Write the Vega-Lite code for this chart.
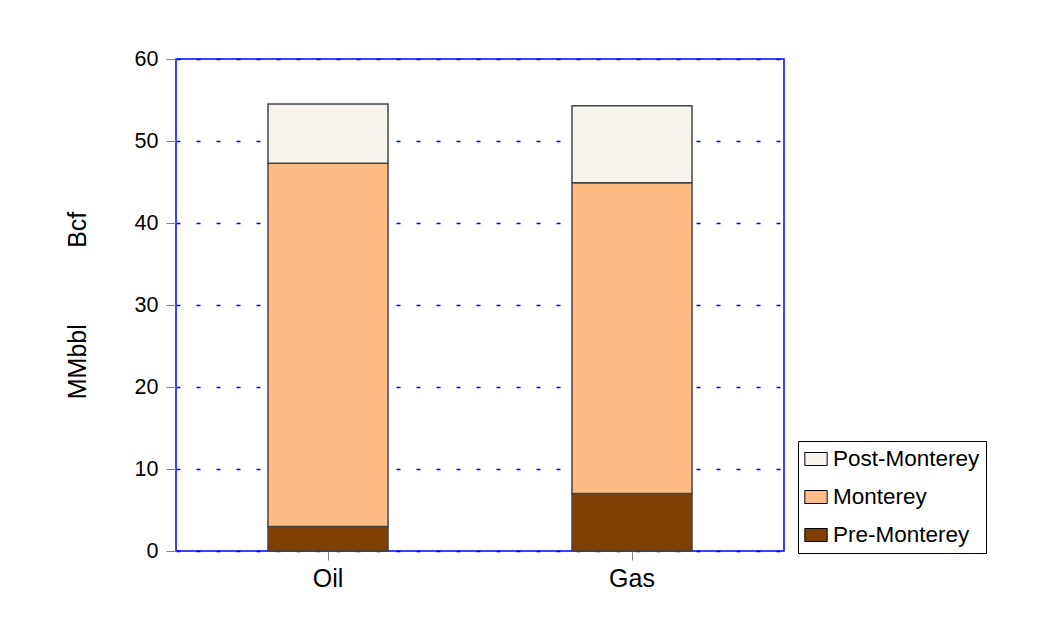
{
  "$schema": "https://vega.github.io/schema/vega-lite/v6.json",
  "width": 608,
  "height": 492,
  "autosize": "none",
  "padding": {"left": 176, "top": 59, "right": 253, "bottom": 85},
  "background": "white",
  "data": {
    "values": [
      {"fluid": "Oil", "unit": "Pre-Monterey", "value": 3.0, "order": 1},
      {"fluid": "Oil", "unit": "Monterey", "value": 44.3, "order": 2},
      {"fluid": "Oil", "unit": "Post-Monterey", "value": 7.2, "order": 3},
      {"fluid": "Gas", "unit": "Pre-Monterey", "value": 7.0, "order": 1},
      {"fluid": "Gas", "unit": "Monterey", "value": 37.9, "order": 2},
      {"fluid": "Gas", "unit": "Post-Monterey", "value": 9.4, "order": 3}
    ]
  },
  "mark": {"type": "bar", "size": 120, "stroke": "#444444", "strokeWidth": 1.5},
  "encoding": {
    "x": {
      "field": "fluid",
      "type": "nominal",
      "sort": ["Oil", "Gas"],
      "scale": {"paddingInner": 0, "paddingOuter": 0},
      "axis": {
        "title": null,
        "labelAngle": 0,
        "domain": false,
        "grid": false,
        "tickColor": "#808080",
        "tickSize": 9,
        "labelFontSize": 25,
        "labelPadding": 6,
        "labelColor": "black",
        "labelFont": "Liberation Sans"
      }
    },
    "y": {
      "field": "value",
      "type": "quantitative",
      "stack": "zero",
      "scale": {"domain": [0, 60], "nice": false},
      "axis": {
        "title": "MMbbl\u00a0\u00a0\u00a0\u00a0\u00a0\u00a0\u00a0\u00a0\u00a0\u00a0\u00a0Bcf",
        "titleFont": "Liberation Sans",
        "titleFontSize": 25,
        "titleFontWeight": "normal",
        "titleColor": "black",
        "titlePadding": 44,
        "values": [0, 10, 20, 30, 40, 50, 60],
        "domain": false,
        "tickColor": "#808080",
        "tickSize": 10,
        "labelPadding": 8,
        "labelFontSize": 21.5,
        "labelColor": "black",
        "labelFont": "Liberation Sans",
        "grid": true,
        "gridColor": "#0000ff",
        "gridOpacity": 1,
        "gridDash": [4, 16],
        "gridWidth": 1.5
      }
    },
    "color": {
      "field": "unit",
      "type": "nominal",
      "scale": {
        "domain": ["Post-Monterey", "Monterey", "Pre-Monterey"],
        "range": ["#F7F4EE", "#FFBB84", "#7F3F00"]
      },
      "legend": {
        "title": null,
        "orient": "none",
        "legendX": 622,
        "legendY": 382,
        "strokeColor": "black",
        "fillColor": "white",
        "padding": 6,
        "rowPadding": 14,
        "labelFontSize": 22.5,
        "labelFont": "Liberation Sans",
        "labelColor": "black",
        "labelOffset": 5,
        "symbolType": "M-1,-0.58H1V0.58H-1Z",
        "symbolSize": 500,
        "symbolStrokeColor": "black",
        "symbolStrokeWidth": 1,
        "symbolOpacity": 1
      }
    },
    "order": {"field": "order", "type": "quantitative"}
  },
  "config": {
    "view": {"stroke": "#0000ff", "strokeWidth": 1.5}
  }
}
